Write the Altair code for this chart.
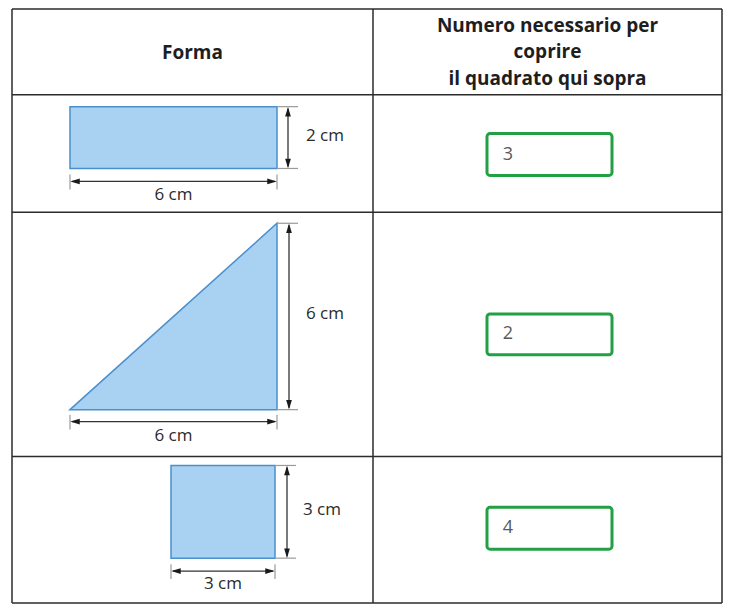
import altair as alt
import pandas as pd

# ---- data (canvas units = pixels of the reference picture) ----
col_edges = [12, 373, 722]
row_edges = [6, 92, 210, 455, 602]

header_left = "Forma"
header_right = ["Numero necessario per", "coprire", "il quadrato qui sopra"]
header_right_y = [23, 49, 76]

rect_xs = [70, 277]
rect_ys = [104, 166]
tri_xs = [70, 277]
tri_top = 221
tri_base = 408
sq_xs = [171, 275]
sq_ys = [464, 557]

dim_labels = ["2 cm", "6 cm", "6 cm", "6 cm", "3 cm", "3 cm"]
answers = ["3", "2", "4"]
answer_box_xs = [487, 612]
answer_box_ys = [(131, 173), (312, 353), (506, 548)]

# ---- tables built from the arrays ----
grid = []
for cx in col_edges:
    grid.append(dict(x=cx, y=row_edges[0], x2=cx, y2=row_edges[-1]))
for ry in row_edges:
    grid.append(dict(x=col_edges[0], y=ry, x2=col_edges[-1], y2=ry))
grid_df = pd.DataFrame(grid)

dims = []    # arrow shafts
ticks = []   # extension ticks
heads = []   # arrow heads
labels = []


def dimension(x0, x1, y0, y1, vlabel, hlabel, vx, hy, vlx, hly):
    # vertical dimension
    dims.append(dict(x=vx, y=y0 + 2, x2=vx, y2=y1 - 2))
    ticks.append(dict(x=x1 + 1, y=y0, x2=x1 + 21, y2=y0))
    ticks.append(dict(x=x1 + 1, y=y1, x2=x1 + 21, y2=y1))
    heads.append(dict(x=vx, y=y0 + 5, a=0))
    heads.append(dict(x=vx, y=y1 - 5, a=180))
    labels.append(dict(x=vlx, y=(y0 + y1) / 2 - 2, t=vlabel))
    # horizontal dimension
    dims.append(dict(x=x0 + 2, y=hy, x2=x1 - 2, y2=hy))
    ticks.append(dict(x=x0, y=hy - 7, x2=x0, y2=hy + 8))
    ticks.append(dict(x=x1, y=hy - 7, x2=x1, y2=hy + 8))
    heads.append(dict(x=x0 + 5, y=hy, a=270))
    heads.append(dict(x=x1 - 5, y=hy, a=90))
    labels.append(dict(x=(x0 + x1) / 2, y=hly, t=hlabel))


dimension(rect_xs[0], rect_xs[1], rect_ys[0], rect_ys[1], dim_labels[0], dim_labels[1], 288, 179, 325, 193)
dimension(tri_xs[0], tri_xs[1], tri_top, tri_base, dim_labels[2], dim_labels[3], 289, 420, 325, 434)
dimension(sq_xs[0], sq_xs[1], sq_ys[0], sq_ys[1], dim_labels[4], dim_labels[5], 287, 570, 322, 583)

dims_df = pd.DataFrame(dims)
ticks_df = pd.DataFrame(ticks)
heads_df = pd.DataFrame(heads)
labels_df = pd.DataFrame(labels)

boxes_df = pd.DataFrame([
    dict(x=rect_xs[0], x2=rect_xs[1], y=rect_ys[0], y2=rect_ys[1]),
    dict(x=sq_xs[0], x2=sq_xs[1], y=sq_ys[0], y2=sq_ys[1]),
])
tri_df = pd.DataFrame([
    dict(x=tri_xs[0], y=tri_base, y2=tri_base),
    dict(x=tri_xs[1], y=tri_top, y2=tri_base),
])

ans_df = pd.DataFrame([
    dict(x=answer_box_xs[0], x2=answer_box_xs[1], y=b[0], y2=b[1],
         tx=answer_box_xs[0] + 21, ty=(b[0] + b[1]) / 2, t=a)
    for a, b in zip(answers, answer_box_ys)
])

head_df = pd.DataFrame(
    [dict(x=(col_edges[0] + col_edges[1]) / 2, y=50, t=header_left)]
    + [dict(x=(col_edges[1] + col_edges[2]) / 2, y=yy, t=t)
       for t, yy in zip(header_right, header_right_y)]
)

# ---- scales ----
xs = alt.Scale(domain=[8, 723], nice=False, zero=False)
ys = alt.Scale(domain=[5, 603], nice=False, zero=False, reverse=True)


def X(f):
    return alt.X(f, type="quantitative", scale=xs, axis=None)


def Y(f):
    return alt.Y(f, type="quantitative", scale=ys, axis=None)


FONT = "Open Sans"
BLUE_FILL = "#a9d1f2"
BLUE_STROKE = "#4a90cc"

grid_layer = alt.Chart(grid_df).mark_rule(color="#2b2b2b", strokeWidth=1.5).encode(
    x=X("x"), y=Y("y"), x2="x2", y2="y2")

rect_layer = alt.Chart(boxes_df).mark_rect(fill=BLUE_FILL, stroke=BLUE_STROKE, strokeWidth=1.5).encode(
    x=X("x"), x2="x2", y=Y("y"), y2="y2")

tri_layer = alt.Chart(tri_df).mark_area(fill=BLUE_FILL, stroke=BLUE_STROKE, strokeWidth=1.5,
                                        fillOpacity=1, orient="vertical").encode(
    x=X("x"), y=Y("y"), y2="y2")

tick_layer = alt.Chart(ticks_df).mark_rule(color="#9a9a9a", strokeWidth=1.2).encode(
    x=X("x"), y=Y("y"), x2="x2", y2="y2")

dim_layer = alt.Chart(dims_df).mark_rule(color="#333333", strokeWidth=1.3).encode(
    x=X("x"), y=Y("y"), x2="x2", y2="y2")

head_layer = alt.Chart(heads_df).mark_point(
    shape="M0,-1L0.6,1L-0.6,1Z", filled=True, color="#1a1a1a", opacity=1, size=90, strokeWidth=0
).encode(x=X("x"), y=Y("y"), angle=alt.Angle("a:Q", scale=None))

label_layer = alt.Chart(labels_df).mark_text(
    font=FONT, fontSize=17, color="#2a2a2a", align="center", baseline="middle"
).encode(x=X("x"), y=Y("y"), text="t:N")

ans_box_layer = alt.Chart(ans_df).mark_rect(
    fill="white", stroke="#23a044", strokeWidth=3, cornerRadius=3
).encode(x=X("x"), x2="x2", y=Y("y"), y2="y2")

ans_text_layer = alt.Chart(ans_df).mark_text(
    font=FONT, fontSize=18, color="#5a5a5a", align="center", baseline="middle"
).encode(x=X("tx"), y=Y("ty"), text="t:N")

header_layer = alt.Chart(head_df).mark_text(
    font=FONT, fontSize=19, fontWeight="bold", color="#1e1e1e", align="center", baseline="middle"
).encode(x=X("x"), y=Y("y"), text="t:N")

chart = alt.layer(
    rect_layer, tri_layer, tick_layer, dim_layer, head_layer, label_layer,
    ans_box_layer, ans_text_layer, header_layer, grid_layer
).properties(
    width=715, height=596, padding=0, autosize=alt.AutoSizeParams(type="none"),
    background="white"
).configure_view(stroke=None)

chart.save("out.html", embed_options={"renderer": "svg", "actions": False})
